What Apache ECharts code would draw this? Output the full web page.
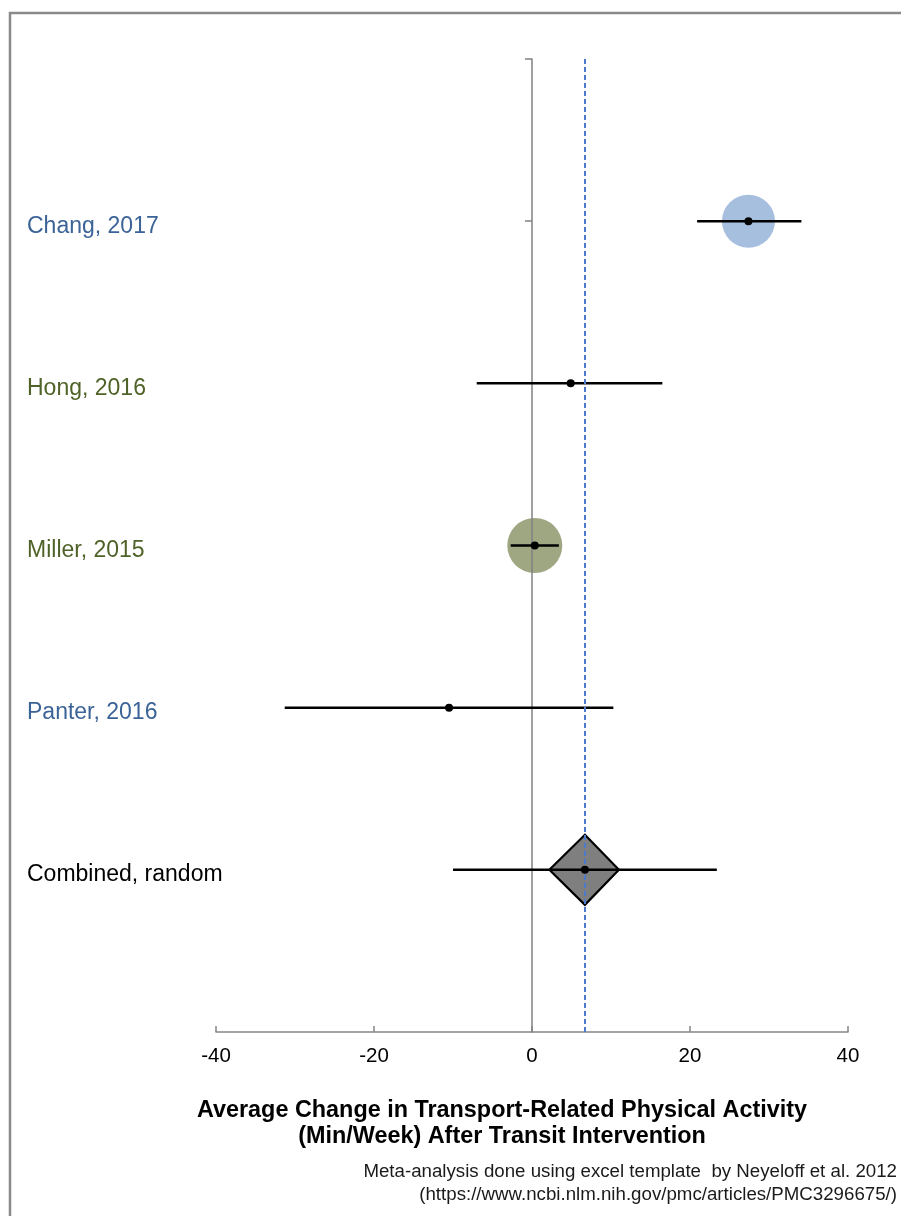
<!DOCTYPE html>
<html>
<head>
<meta charset="utf-8">
<script src="https://cdn.jsdelivr.net/npm/echarts@6/dist/echarts.min.js"></script>
<style>html,body{margin:0;padding:0;background:#fff;}#c{width:901px;height:1216px;}</style>
</head>
<body>
<div id="c"></div>
<script>
// ---- data ----
const studies   = ['Chang, 2017', 'Hong, 2016', 'Miller, 2015', 'Panter, 2016', 'Combined, random'];
const rowPos    = [5, 4, 3, 2, 1];
const estimates = [27.4, 4.9, 0.35, -10.5, 6.7];
const ciLow     = [20.9, -7.0, -2.7, -31.3, -10.0];
const ciHigh    = [34.1, 16.5, 3.4, 10.3, 23.4];
const weights   = [47.5, 0.85, 51.0, 0.65];     // study weights (%), shown as marker area
const pooledEstimate = 6.7;
const pooledDiamond  = [2.2, 11.0];             // diamond extent
const xTicks = [-40, -20, 0, 20, 40];
const yRowTicks = [5, 6];
const noteLines = ['Meta-analysis done using excel template  by Neyeloff et al. 2012',
                   '(https://www.ncbi.nlm.nih.gov/pmc/articles/PMC3296675/)'];
const titleLines = ['Average Change in Transport-Related Physical Activity',
                    '(Min/Week) After Transit Intervention'];

// ---- styles ----
const FONT = 'Liberation Sans, Arial, sans-serif';
const labelColors = ['#3b6397', '#4f6228', '#4f6228', '#3b6397', '#000000'];
const bubbleColors = ['#a7bfdf', '#9bbb59', '#9ea682', '#4f81bd'];

const chart = echarts.init(document.getElementById('c'), null, {renderer: 'canvas'});

const bubbleData = weights.map((w, i) => ({
  value: [estimates[i], rowPos[i], w],
  itemStyle: {color: bubbleColors[i], opacity: 1}
}));
const ciData = studies.map((s, i) => [estimates[i], rowPos[i], ciLow[i], ciHigh[i]]);
const dotData = studies.map((s, i) => [estimates[i], rowPos[i]]);
const diamondData = [[pooledEstimate, rowPos[4], pooledDiamond[0], pooledDiamond[1]]];

const rich = {};
labelColors.forEach((c, i) => {
  rich['r' + i] = {color: c, fontFamily: FONT, fontSize: 23};
});

const option = {
  backgroundColor: '#ffffff',
  animation: false,
  textStyle: {fontFamily: FONT},
  grid: {left: 216, right: 53, top: 59, bottom: 184, containLabel: false, outerBoundsMode: 'none'},
  graphic: [{
    type: 'rect', silent: true, z: 100,
    shape: {x: 10, y: 13, width: 1000, height: 1400},
    style: {fill: 'none', stroke: '#8a8a8a', lineWidth: 2.5}
  }, {
    type: 'text', silent: true, z: 100,
    x: 897, y: 1160,
    style: {
      text: noteLines.join('\n'), align: 'right', verticalAlign: 'top',
      font: '18.7px ' + FONT, lineHeight: 23, fill: '#1a1a1a'
    }
  }],
  title: [{
    text: titleLines.join('\n'),
    left: 502, top: 1098, textAlign: 'center', padding: 0,
    textStyle: {fontFamily: FONT, fontSize: 23.4, fontWeight: 'bold', lineHeight: 26, color: '#000'}
  }],
  xAxis: {
    type: 'value', min: xTicks[0], max: xTicks[xTicks.length - 1], interval: 20,
    axisLine: {show: true, onZero: false, lineStyle: {color: '#868686', width: 1.5}},
    axisTick: {show: true, inside: true, length: 6, lineStyle: {color: '#868686', width: 1.5}},
    axisLabel: {fontFamily: FONT, fontSize: 20.5, color: '#000', margin: 14},
    splitLine: {show: false}
  },
  yAxis: [{
    type: 'value', min: 0, max: 6, z: 2,
    axisLine: {show: true, onZero: true, lineStyle: {color: '#808080', width: 1.5}},
    axisTick: {show: true, length: 7, customValues: yRowTicks, lineStyle: {color: '#808080', width: 1.5}},
    axisLabel: {show: false},
    splitLine: {show: false}
  }, {
    type: 'value', min: 0, max: 6, position: 'left',
    axisLine: {show: false, onZero: false},
    axisTick: {show: false},
    splitLine: {show: false},
    axisLabel: {
      show: true, customValues: rowPos, align: 'left', margin: 189,
      fontFamily: FONT, fontSize: 23, padding: [10, 0, 0, 0],
      formatter: v => {
        const i = rowPos.indexOf(v);
        return i < 0 ? '' : '{r' + i + '|' + studies[i] + '}';
      },
      rich: rich
    }
  }],
  series: [{
    name: 'weights', type: 'scatter', z: 1, yAxisIndex: 0,
    symbol: 'circle',
    symbolSize: d => 7.7 * Math.sqrt(d[2]),
    itemStyle: {opacity: 1},
    data: bubbleData
  }, {
    name: 'pooled', type: 'custom', z: 3, yAxisIndex: 0,
    encode: {x: 0, y: 1},
    renderItem: (params, api) => {
      const y = api.value(1);
      const l = api.coord([api.value(2), y]);
      const r = api.coord([api.value(3), y]);
      const c = api.coord([api.value(0), y]);
      const h = 35;
      return {
        type: 'polygon',
        shape: {points: [[l[0], l[1]], [c[0], c[1] - h], [r[0], r[1]], [c[0], c[1] + h]]},
        style: {fill: '#7f7f7f', stroke: '#000', lineWidth: 2.2}
      };
    },
    data: diamondData
  }, {
    name: 'ci', type: 'custom', z: 4, yAxisIndex: 0,
    encode: {x: [0, 2, 3], y: 1},
    renderItem: (params, api) => {
      const y = api.value(1);
      const a = api.coord([api.value(2), y]);
      const b = api.coord([api.value(3), y]);
      return {
        type: 'line',
        shape: {x1: a[0], y1: a[1], x2: b[0], y2: b[1]},
        style: {stroke: '#000', lineWidth: 2.5}
      };
    },
    data: ciData
  }, {
    name: 'estimates', type: 'scatter', z: 5, yAxisIndex: 0,
    symbol: 'circle', symbolSize: 8,
    itemStyle: {color: '#000', opacity: 1},
    data: dotData
  }, {
    name: 'pooled line', type: 'scatter', z: 6, yAxisIndex: 0,
    data: [],
    markLine: {
      silent: true, symbol: 'none',
      label: {show: false},
      lineStyle: {color: '#4a7bcc', width: 2, type: [5, 3], opacity: 1},
      data: [{xAxis: pooledEstimate}]
    }
  }]
};
chart.setOption(option);
</script>
</body>
</html>
